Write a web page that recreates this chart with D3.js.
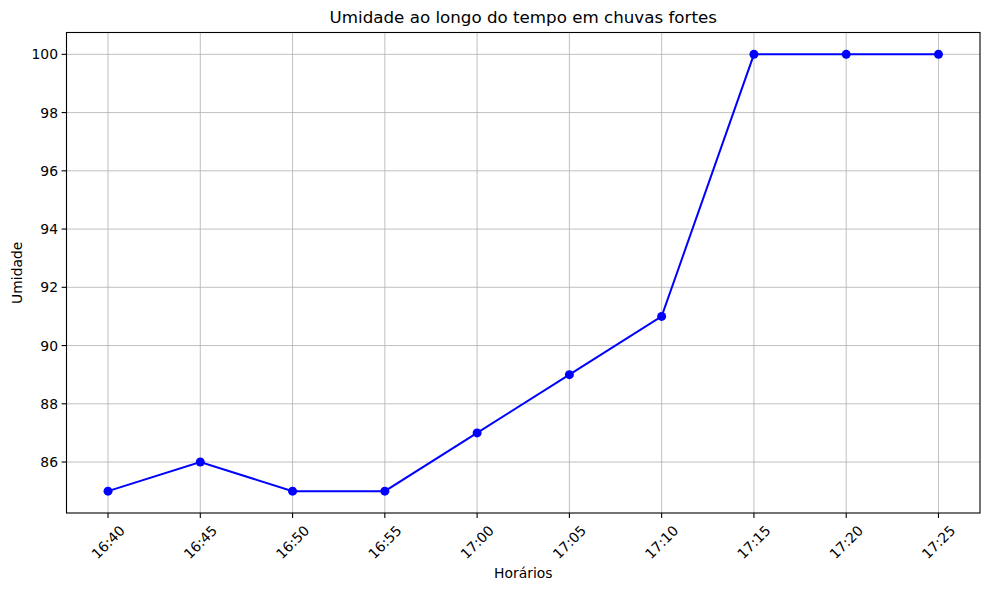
<!DOCTYPE html>
<html><head><meta charset="utf-8">
<script src="https://cdn.jsdelivr.net/npm/d3@7"></script>
<style>body{margin:0;background:#fff}</style>
</head><body>
<script>
const times = ["16:40","16:45","16:50","16:55","17:00","17:05","17:10","17:15","17:20","17:25"];
const umidade = [85,86,85,85,87,89,91,100,100,100];
const yTicks = [86,88,90,92,94,96,98,100];

const W=989,H=590;
const L=66.5,R=980,T=32.5,B=513;
const font="DejaVu Sans, sans-serif";
const svg=d3.select("body").append("svg").attr("width",W).attr("height",H);
const x=d3.scaleLinear().domain([-0.45,9.45]).range([L,R]);
const y=d3.scaleLinear().domain([84.25,100.75]).range([B,T]);

const g=svg.append("g");
// grid
g.selectAll(".gx").data(times).join("line")
 .attr("x1",(d,i)=>x(i)).attr("x2",(d,i)=>x(i)).attr("y1",T).attr("y2",B)
 .attr("stroke","#b0b0b0").attr("stroke-width",0.8);
g.selectAll(".gy").data(yTicks).join("line")
 .attr("y1",d=>y(d)).attr("y2",d=>y(d)).attr("x1",L).attr("x2",R)
 .attr("stroke","#b0b0b0").attr("stroke-width",0.8);

// line
const line=d3.line().x((d,i)=>x(i)).y(d=>y(d));
g.append("path").datum(umidade).attr("d",line).attr("fill","none")
 .attr("stroke","#0000ff").attr("stroke-width",2);
g.selectAll(".pt").data(umidade).join("circle")
 .attr("cx",(d,i)=>x(i)).attr("cy",d=>y(d)).attr("r",4.5).attr("fill","#0000ff");

// frame
g.append("rect").attr("x",L).attr("y",T).attr("width",R-L).attr("height",B-T)
 .attr("fill","none").attr("stroke","#000").attr("stroke-width",1.1);

// x ticks
times.forEach((t,i)=>{
  g.append("line").attr("x1",x(i)).attr("x2",x(i)).attr("y1",B).attr("y2",B+4.9).attr("stroke","#000").attr("stroke-width",1.1);
  g.append("text").attr("transform",`translate(${x(i)},${542}) rotate(-45)`)
   .attr("text-anchor","middle").attr("dominant-baseline","central")
   .attr("font-family",font).attr("font-size",13.9).text(t);
});
// y ticks
yTicks.forEach(v=>{
  g.append("line").attr("x1",L-4.9).attr("x2",L).attr("y1",y(v)).attr("y2",y(v)).attr("stroke","#000").attr("stroke-width",1.1);
  g.append("text").attr("x",L-8.5).attr("y",y(v)).attr("text-anchor","end").attr("dominant-baseline","central")
   .attr("font-family",font).attr("font-size",13.9).text(v);
});

svg.append("text").attr("x",(L+R)/2).attr("y",17).attr("text-anchor","middle").attr("dominant-baseline","central")
 .attr("font-family",font).attr("font-size",16.7).text("Umidade ao longo do tempo em chuvas fortes");
svg.append("text").attr("x",(L+R)/2).attr("y",573).attr("text-anchor","middle").attr("dominant-baseline","central")
 .attr("font-family",font).attr("font-size",13.9).text("Horários");
svg.append("text").attr("transform",`translate(17,${(T+B)/2}) rotate(-90)`).attr("text-anchor","middle").attr("dominant-baseline","central")
 .attr("font-family",font).attr("font-size",13.9).text("Umidade");
</script>
</body></html>
